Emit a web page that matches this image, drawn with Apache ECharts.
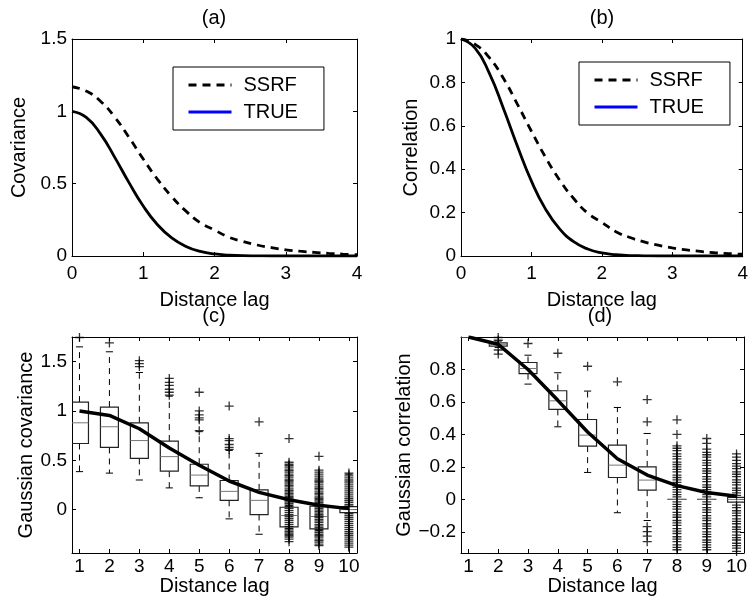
<!DOCTYPE html>
<html><head><meta charset="utf-8">
<script src="https://cdn.jsdelivr.net/npm/echarts@6/dist/echarts.min.js"></script>
<style>html,body{margin:0;padding:0;background:#fff}#c{width:751px;height:605px}</style>
</head><body><div id="c"></div>
<script>
// ---------- data ----------
const lagTop = [0,0.2,0.4,0.6,0.8,1.0,1.2,1.4,1.6,1.8,2.0,2.2,2.4,2.6,2.8,3.0,3.2,3.4,3.6,3.8,4.0];
const ssrfCov  = [1.17,1.14,1.07,0.96,0.82,0.67,0.53,0.41,0.31,0.23,0.18,0.13,0.10,0.076,0.058,0.043,0.033,0.025,0.018,0.013,0.009];
const trueCov  = [1.0,0.958,0.844,0.682,0.507,0.345,0.216,0.125,0.066,0.032,0.014,0.006,0.002,0.001,0,0,0,0,0,0,0];
const ssrfCorr = [1.0,0.975,0.915,0.82,0.70,0.575,0.455,0.35,0.265,0.197,0.155,0.112,0.085,0.065,0.05,0.037,0.028,0.021,0.015,0.011,0.008];
const trueCorr = [1.0,0.958,0.844,0.682,0.507,0.345,0.216,0.125,0.066,0.032,0.014,0.006,0.002,0.001,0,0,0,0,0,0,0];

const lags = [1,2,3,4,5,6,7,8,9,10];
const covCurve  = [1.0,0.955,0.82,0.625,0.45,0.29,0.175,0.10,0.045,0.01];
const corrCurve = [1.0,0.955,0.80,0.61,0.415,0.25,0.15,0.085,0.043,0.02];

// box statistics per lag
const covLow  = [0.385,0.37,0.30,0.22,0.12,-0.094,-0.25,-0.19,-0.21,-0.50];
const covQ1   = [0.67,0.63,0.52,0.39,0.24,0.094,-0.05,-0.175,-0.195,-0.03];
const covMed  = [0.88,0.84,0.70,0.537,0.35,0.185,0.094,-0.06,-0.07,0.0];
const covQ3   = [1.09,1.04,0.88,0.695,0.46,0.295,0.20,0.024,0.034,0.03];
const covHigh = [1.65,1.60,1.39,1.15,0.79,0.60,0.57,0.04,0.04,0.36];
const covOut = [
  [1.745],
  [1.69],
  [1.45,1.48,1.51],
  [1.16,1.19,1.22,1.26,1.29,1.33],
  [0.80,0.91,0.93,0.96,1.00,1.19],
  [0.61,0.63,0.66,0.70,0.72,1.05],
  [0.89],
  [0.72,0.48,0.46,0.445,0.43,0.41,0.395,0.38,0.36,0.345,0.33,0.31,0.295,0.28,0.26,0.245,0.23,0.21,0.195,0.18,0.165,0.15,0.135,0.12,0.105,0.09,0.075,0.06,0.045,0.03,0.01,-0.01,-0.03,-0.05,-0.07,-0.09,-0.11,-0.13,-0.15,-0.17,-0.19,-0.205,-0.22,-0.235,-0.25,-0.265,-0.28,-0.30,-0.325],
  [0.54,0.40,0.38,0.36,0.34,0.32,0.30,0.285,0.27,0.25,0.23,0.215,0.20,0.18,0.165,0.15,0.13,0.115,0.10,0.085,0.07,0.055,0.04,0.025,0.01,-0.005,-0.02,-0.035,-0.05,-0.065,-0.08,-0.10,-0.115,-0.13,-0.15,-0.165,-0.18,-0.20,-0.215,-0.23,-0.25,-0.265,-0.28,-0.30,-0.315,-0.33,-0.35,-0.365],
  [0.37,0.35,0.33,0.31,0.29,0.27,0.25,0.23,0.21,0.19,0.17,0.15,0.13,0.11,0.09,0.07,0.05,0.035,-0.04,-0.06,-0.08,-0.10,-0.12,-0.14,-0.16,-0.18,-0.20,-0.22,-0.24,-0.26,-0.28,-0.30,-0.32,-0.34,-0.36,-0.38]
];

const corrLow  = [1,0.935,0.71,0.447,0.166,-0.082,-0.13,0,0,-0.017];
const corrQ1   = [1,0.944,0.775,0.554,0.328,0.135,0.057,0,0,-0.017];
const corrMed  = [1,0.955,0.806,0.607,0.396,0.211,0.119,0,0,0.0];
const corrQ3   = [1,0.964,0.843,0.669,0.492,0.334,0.20,0,0,0.012];
const corrHigh = [1,0.975,0.888,0.78,0.667,0.566,0.406,0,0,0.012];
const corrOut = [
  [],
  [0.997,0.98,0.92,0.895],
  [0.96],
  [0.90],
  [0.82],
  [0.724],
  [0.615,0.478,-0.168,-0.199,-0.226,-0.26],
  [0.49,0.40,0.33,0.315,0.30,0.28,0.265,0.25,0.23,0.215,0.20,0.185,0.17,0.15,0.135,0.12,0.105,0.09,0.075,0.06,0.045,0.03,0.015,-0.015,-0.03,-0.045,-0.06,-0.08,-0.095,-0.11,-0.13,-0.145,-0.16,-0.18,-0.195,-0.21,-0.23,-0.245,-0.26,-0.28,-0.295,-0.31],
  [0.375,0.345,0.31,0.29,0.275,0.26,0.24,0.225,0.21,0.19,0.175,0.16,0.14,0.125,0.11,0.09,0.075,0.06,0.045,0.03,0.015,-0.015,-0.03,-0.05,-0.065,-0.08,-0.10,-0.115,-0.13,-0.15,-0.165,-0.18,-0.20,-0.215,-0.23,-0.25,-0.265,-0.28,-0.295,-0.31],
  [0.28,0.26,0.24,0.22,0.205,0.19,0.17,0.155,0.14,0.12,0.105,0.09,0.07,0.055,0.04,0.025,-0.035,-0.05,-0.07,-0.085,-0.10,-0.12,-0.135,-0.15,-0.17,-0.185,-0.20,-0.22,-0.235,-0.25,-0.27,-0.285,-0.30,-0.32]
];

const covTicks = [0,0.5,1,1.5];
const corrTicks = [-0.2,0,0.2,0.4,0.6,0.8];

// ---------- chart ----------
const FONT = "'Liberation Sans', Arial, Helvetica, sans-serif";
const chart = echarts.init(document.getElementById('c'), null, {renderer:'canvas'});

const grids = [
  {left:72, top:39, width:285, height:217},
  {left:461, top:39, width:283, height:217},
  {left:72, top:337, width:285, height:216},
  {left:461, top:337, width:283, height:216}
];

function fmt(v){ return (v < 0 ? '\u2212' : '') + String(Math.abs(Math.round(v*1000)/1000)); }

function xAxes(gi, cfg){
  const base = {
    type:'value', gridIndex:gi, min:cfg.min, max:cfg.max,
    splitLine:{show:false},
    axisLine:{show:true, onZero:false, lineStyle:{color:'#000', width:1}},
  };
  const bottom = Object.assign({}, base, {
    position:'bottom',
    axisTick:{show:true, inside:true, length:4, lineStyle:{color:'#000'}},
    axisLabel:{show:true, color:'#000', fontSize:19, fontFamily:FONT, margin:cfg.margin, formatter:fmt},
    name:'Distance lag', nameLocation:'middle', nameGap:cfg.nameGap,
    nameTextStyle:{color:'#000', fontSize:20, fontFamily:FONT}
  });
  const top = Object.assign({}, base, {
    position:'top',
    axisTick:{show:true, inside:true, length:4, lineStyle:{color:'#000'}},
    axisLabel:{show:false}
  });
  if (cfg.interval !== undefined){ bottom.interval = cfg.interval; top.interval = cfg.interval; }
  if (cfg.custom){
    bottom.axisTick.customValues = cfg.custom; bottom.axisLabel.customValues = cfg.custom;
    top.axisTick.customValues = cfg.custom; top.axisLabel.customValues = cfg.custom;
  }
  return [bottom, top];
}
function yAxes(gi, cfg){
  const base = {
    type:'value', gridIndex:gi, min:cfg.min, max:cfg.max,
    splitLine:{show:false},
    axisLine:{show:true, onZero:false, lineStyle:{color:'#000', width:1}},
  };
  const left = Object.assign({}, base, {
    position:'left',
    axisTick:{show:true, inside:true, length:4, lineStyle:{color:'#000'}},
    axisLabel:{show:true, color:'#000', fontSize:19, fontFamily:FONT, margin:5, formatter:fmt},
    name:cfg.name, nameLocation:'middle', nameGap:cfg.nameGap, nameRotate:90,
    nameTextStyle:{color:'#000', fontSize:20, fontFamily:FONT}
  });
  const right = Object.assign({}, base, {
    position:'right',
    axisTick:{show:true, inside:true, length:4, lineStyle:{color:'#000'}},
    axisLabel:{show:false}
  });
  if (cfg.interval !== undefined){ left.interval = cfg.interval; right.interval = cfg.interval; }
  if (cfg.custom){
    left.axisTick.customValues = cfg.custom; left.axisLabel.customValues = cfg.custom;
    right.axisTick.customValues = cfg.custom; right.axisLabel.customValues = cfg.custom;
  }
  return [left, right];
}

const xAxis = [].concat(
  xAxes(0, {min:0, max:4, interval:1, margin:8, nameGap:34}),
  xAxes(1, {min:0, max:4, interval:1, margin:8, nameGap:34}),
  xAxes(2, {min:0.75, max:10.27, custom:lags, margin:4, nameGap:22}),
  xAxes(3, {min:0.75, max:10.25, custom:lags, margin:4, nameGap:22})
);
const yAxis = [].concat(
  yAxes(0, {min:0, max:1.5, interval:0.5, name:'Covariance', nameGap:43}),
  yAxes(1, {min:0, max:1, interval:0.2, name:'Correlation', nameGap:40}),
  yAxes(2, {min:-0.44, max:1.75, custom:covTicks, name:'Gaussian covariance', nameGap:36}),
  yAxes(3, {min:-0.33, max:1.0, custom:corrTicks, name:'Gaussian correlation', nameGap:45})
);

function pairs(xs, ys){ return xs.map((x,i)=>[x, ys[i]]); }
const DASH = [8,6];

function boxRender(params, api){
  const x = api.value(0);
  const pLow = api.coord([x, api.value(1)]);
  const pQ1 = api.coord([x, api.value(2)]);
  const pMed = api.coord([x, api.value(3)]);
  const pQ3 = api.coord([x, api.value(4)]);
  const pHigh = api.coord([x, api.value(5)]);
  const hw = api.size([0.3, 0])[0];
  const cw = api.size([0.12, 0])[0];
  const cx = pQ1[0];
  const ch = [];
  if (pHigh[1] < pQ3[1] - 0.5){
    ch.push({type:'line', shape:{x1:cx,y1:pQ3[1],x2:cx,y2:pHigh[1]}, style:{stroke:'#000', lineWidth:1, lineDash:[6,5]}});
    ch.push({type:'line', shape:{x1:cx-cw,y1:pHigh[1],x2:cx+cw,y2:pHigh[1]}, style:{stroke:'#000', lineWidth:1}});
  }
  if (pLow[1] > pQ1[1] + 0.5){
    ch.push({type:'line', shape:{x1:cx,y1:pQ1[1],x2:cx,y2:pLow[1]}, style:{stroke:'#000', lineWidth:1, lineDash:[6,5]}});
    ch.push({type:'line', shape:{x1:cx-cw,y1:pLow[1],x2:cx+cw,y2:pLow[1]}, style:{stroke:'#000', lineWidth:1}});
  }
  ch.push({type:'rect', shape:{x:cx-hw, y:pQ3[1], width:2*hw, height:Math.max(pQ1[1]-pQ3[1], 0.01)}, style:{fill:'none', stroke:'#222', lineWidth:1.2}});
  ch.push({type:'line', shape:{x1:cx-hw,y1:pMed[1],x2:cx+hw,y2:pMed[1]}, style:{stroke:'#777', lineWidth:1}});
  return {type:'group', children:ch};
}

function outPoints(out){
  const pts = [];
  out.forEach((arr, i) => arr.forEach(v => pts.push([lags[i], v])));
  return pts;
}
const PLUS = 'path://M0,5L10,5M5,0L5,10';

const series = [
  {name:'SSRF', type:'line', xAxisIndex:0, yAxisIndex:0, data:pairs(lagTop, ssrfCov), symbol:'none', smooth:true, lineStyle:{color:'#000', width:2.8, type:DASH}, itemStyle:{color:'#000'}, z:3},
  {name:'TRUE', type:'line', xAxisIndex:0, yAxisIndex:0, data:pairs(lagTop, trueCov), symbol:'none', smooth:true, lineStyle:{color:'#000', width:2.8}, itemStyle:{color:'#000'}, z:3},
  {name:'SSRF', type:'line', xAxisIndex:2, yAxisIndex:2, data:pairs(lagTop, ssrfCorr), symbol:'none', smooth:true, lineStyle:{color:'#000', width:2.8, type:DASH}, itemStyle:{color:'#000'}, z:3},
  {name:'TRUE', type:'line', xAxisIndex:2, yAxisIndex:2, data:pairs(lagTop, trueCorr), symbol:'none', smooth:true, lineStyle:{color:'#000', width:2.8}, itemStyle:{color:'#000'}, z:3},

  {type:'custom', xAxisIndex:4, yAxisIndex:4, clip:true, renderItem:boxRender, z:2,
   data: lags.map((l,i)=>[l, covLow[i], covQ1[i], covMed[i], covQ3[i], covHigh[i]]), encode:{x:0, y:[1,2,3,4,5]}},
  {type:'scatter', xAxisIndex:4, yAxisIndex:4, clip:true, data:outPoints(covOut), symbol:PLUS, symbolSize:9,
   itemStyle:{color:'none', borderColor:'#000', borderWidth:1.3}, z:2},
  {type:'line', xAxisIndex:4, yAxisIndex:4, data:pairs(lags, covCurve), symbol:'none', lineStyle:{color:'#000', width:3.5}, z:4},

  {type:'custom', xAxisIndex:6, yAxisIndex:6, clip:true, renderItem:boxRender, z:2,
   data: lags.map((l,i)=>[l, corrLow[i], corrQ1[i], corrMed[i], corrQ3[i], corrHigh[i]]), encode:{x:0, y:[1,2,3,4,5]}},
  {type:'scatter', xAxisIndex:6, yAxisIndex:6, clip:true, data:outPoints(corrOut), symbol:PLUS, symbolSize:9,
   itemStyle:{color:'none', borderColor:'#000', borderWidth:1.3}, z:2},
  {type:'line', xAxisIndex:6, yAxisIndex:6, data:pairs(lags, corrCurve), symbol:'none', lineStyle:{color:'#000', width:3.5}, z:4}
];

function legendAt(left, top){
  return {
    orient:'vertical', left:left, top:top, selectedMode:false,
    backgroundColor:'#fff', borderColor:'#000', borderWidth:1, borderRadius:0,
    padding:[8,26,8,14], itemGap:7, itemWidth:43, itemHeight:14,
    textStyle:{color:'#000', fontSize:20, fontFamily:FONT, padding:[0,0,0,7]},
    data:[
      {name:'SSRF', lineStyle:{color:'#000', width:2.8, type:DASH}, itemStyle:{color:'#000', opacity:0}},
      {name:'TRUE', lineStyle:{color:'#0000ff', width:3, type:'solid'}, itemStyle:{color:'#0000ff', opacity:0}}
    ]
  };
}

function titleText(x, y, t){
  return {type:'text', x:x, y:y, z:10, style:{text:t, fill:'#000', fontSize:20, fontFamily:FONT, align:'center', verticalAlign:'middle'}};
}

chart.setOption({
  animation:false,
  backgroundColor:'#fff',
  grid:grids,
  xAxis:xAxis,
  yAxis:yAxis,
  legend:[legendAt(173, 67), legendAt(579, 62)],
  graphic:[titleText(214, 18, '(a)'), titleText(602, 18, '(b)'), titleText(214, 316, '(c)'), titleText(600, 316, '(d)')],
  series:series
});
</script></body></html>
